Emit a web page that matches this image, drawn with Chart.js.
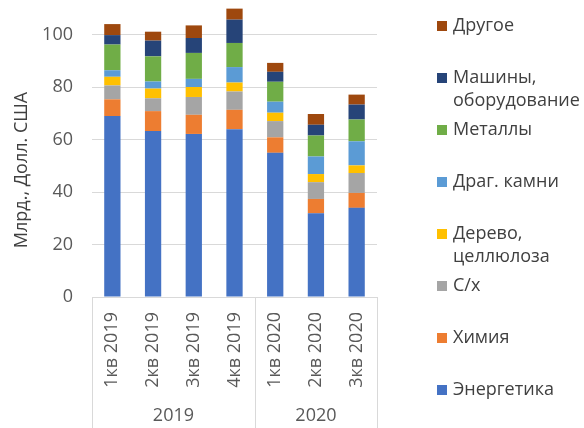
<!DOCTYPE html>
<html><head><meta charset="utf-8">
<script src="https://cdn.jsdelivr.net/npm/chart.js@4/dist/chart.umd.min.js"></script>
<style>html,body{margin:0;padding:0;background:#fff;}canvas{display:block}</style>
</head><body>
<canvas id="c" width="584" height="428"></canvas>
<script>
const categories = ['1кв 2019','2кв 2019','3кв 2019','4кв 2019','1кв 2020','2кв 2020','3кв 2020'];
const years = ['2019','2019','2019','2019','2020','2020','2020'];
const seriesNames = ['Энергетика','Химия','С/х','Дерево,\nцеллюлоза','Драг. камни','Металлы','Машины,\nоборудование','Другое'];
const energy   = [69.0, 63.3, 62.2, 64.0, 55.0, 31.9, 34.0];
const chem     = [6.4, 7.6, 7.3, 7.4, 5.9, 5.5, 5.7];
const agri     = [5.3, 4.9, 6.8, 7.0, 6.2, 6.4, 7.6];
const wood     = [3.3, 3.7, 3.8, 3.4, 3.2, 3.1, 2.9];
const gems     = [2.5, 2.7, 3.1, 5.9, 4.2, 6.7, 9.2];
const metals   = [9.8, 9.6, 9.9, 9.2, 7.6, 8.0, 8.3];
const machines = [3.6, 6.0, 5.7, 8.9, 3.8, 4.1, 5.7];
const other    = [4.2, 3.4, 4.8, 4.2, 3.4, 4.1, 3.8];
const yTicks = [0, 20, 40, 60, 80, 100];
const yTitle = 'Млрд., Долл. США';

const seriesValues = [energy, chem, agri, wood, gems, metals, machines, other];
const colors = ['#4472C4','#ED7D31','#A5A5A5','#FFC000','#5B9BD5','#70AD47','#264478','#9E480E'];
const FONT = "'Open Sans', sans-serif";
const TXT = '#595959';

const datasets = seriesValues.map((v, i) => ({
  label: seriesNames[i],
  data: v,
  backgroundColor: colors[i],
  borderWidth: 0,
  categoryPercentage: 1.0,
  barPercentage: 0.4
}));

const extras = {
  id: 'extras',
  afterDraw(chart) {
    const ctx = chart.ctx, xs = chart.scales.x, ca = chart.chartArea;
    ctx.save();
    const half = (xs.getPixelForValue(1) - xs.getPixelForValue(0)) / 2;
    const groups = [];
    years.forEach((y, i) => {
      if (!groups.length || groups[groups.length - 1].label !== y) groups.push({label: y, start: i, end: i});
      else groups[groups.length - 1].end = i;
    });
    ctx.strokeStyle = '#D9D9D9';
    ctx.lineWidth = 1;
    const edges = new Set();
    groups.forEach(g => {
      edges.add(Math.round(xs.getPixelForValue(g.start) - half) + 0.5);
      edges.add(Math.round(xs.getPixelForValue(g.end) + half) + 0.5);
    });
    edges.forEach(px => {
      ctx.beginPath(); ctx.moveTo(px, ca.bottom); ctx.lineTo(px, chart.height); ctx.stroke();
    });
    ctx.fillStyle = TXT;
    ctx.font = '18px ' + FONT;
    ctx.textAlign = 'center';
    ctx.textBaseline = 'middle';
    groups.forEach(g => {
      const cx = (xs.getPixelForValue(g.start) + xs.getPixelForValue(g.end)) / 2;
      ctx.fillText(g.label, cx, 416);
    });
    ctx.save();
    ctx.translate(22, 170);
    ctx.rotate(-Math.PI / 2);
    ctx.fillStyle = '#404040';
    ctx.fillText(yTitle, 0, 0);
    ctx.restore();
    const ds = chart.data.datasets.slice().reverse();
    ctx.textAlign = 'left';
    ds.forEach((d, i) => {
      const cy = 26 + 52 * i;
      ctx.fillStyle = d.backgroundColor;
      ctx.fillRect(437, cy - 5, 10, 10);
      ctx.fillStyle = '#404040';
      d.label.split('\n').forEach((line, j) => ctx.fillText(line, 453, cy + j * 23));
    });
    ctx.restore();
  }
};

new Chart(document.getElementById('c'), {
  type: 'bar',
  data: { labels: categories, datasets },
  plugins: [extras],
  options: {
    responsive: false,
    devicePixelRatio: 1,
    animation: false,
    layout: { padding: { left: 0, right: 207, top: 6, bottom: 31 } },
    plugins: { legend: { display: false }, tooltip: { enabled: false } },
    scales: {
      x: {
        stacked: true,
        grid: { display: false },
        border: { display: true, color: '#D9D9D9' },
        ticks: { autoSkip: false, minRotation: 90, maxRotation: 90, padding: 7, color: TXT, font: { family: FONT, size: 18 } },
        afterFit(s) { s.height = 100; }
      },
      y: {
        stacked: true,
        min: 0,
        max: 111,
        grid: { color: '#D9D9D9', drawTicks: false },
        border: { display: false },
        afterBuildTicks(s) { s.ticks = yTicks.map(v => ({ value: v })); },
        ticks: { padding: 19, color: TXT, font: { family: FONT, size: 18 } },
        afterFit(s) { s.width = 92; s.paddingTop = 0; s.paddingBottom = 0; }
      }
    }
  }
});
</script>
</body></html>
